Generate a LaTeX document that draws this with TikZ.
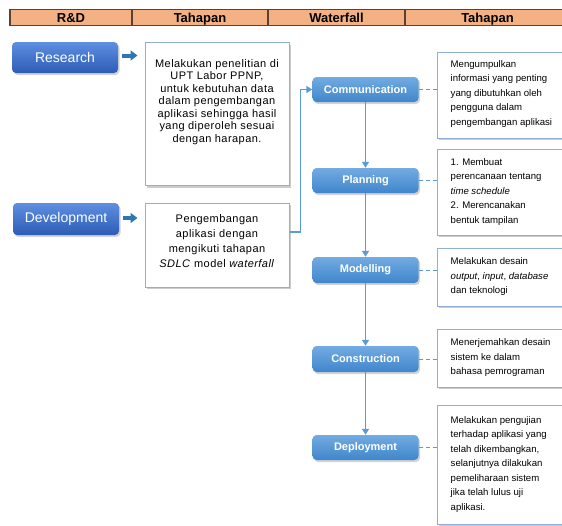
\documentclass[tikz,border=0pt]{standalone}
\usepackage{fontspec}
\setmainfont{Liberation Sans}
\usetikzlibrary{arrows.meta,shadows}
\definecolor{hdrfill}{HTML}{F4B183}
\definecolor{hdrline}{HTML}{5E4030}
\definecolor{rdtop}{HTML}{5E8FE2}
\definecolor{rdbot}{HTML}{2D5CB5}
\definecolor{wftop}{HTML}{73ABE2}
\definecolor{wfbot}{HTML}{3F86CB}
\definecolor{tline}{HTML}{8FAFD6}
\definecolor{cline}{HTML}{5B9BD5}
\definecolor{barrow}{HTML}{2E75B6}
\begin{document}
\begin{tikzpicture}[x=1pt,y=-1pt,
  hdr/.style={draw=hdrline, line width=1.2pt, fill=hdrfill, minimum height=16.5pt,
    inner sep=0pt, text height=9.3pt, text depth=0pt,
    font=\fontsize{13}{14}\selectfont\bfseries},
  rdbox/.style={rounded corners=4pt, top color=rdtop, bottom color=rdbot,
    minimum width=106pt, minimum height=31pt, inner sep=0pt, text=white,
    font=\fontsize{14}{15}\selectfont,
    drop shadow={shadow xshift=1.5pt, shadow yshift=-2pt, opacity=0.35}},
  wfbox/.style={rounded corners=4pt, top color=wftop, bottom color=wfbot,
    minimum width=106pt, minimum height=25pt, inner sep=0pt, text=white,
    font=\fontsize{11}{12}\selectfont\bfseries,
    drop shadow={shadow xshift=1.5pt, shadow yshift=-2pt, opacity=0.35}},
  tbox/.style={draw=tline, line width=1pt, fill=white, inner sep=0pt,
    drop shadow={shadow xshift=2pt, shadow yshift=-2pt, opacity=0.4}},
  ltext/.style={align=center, inner sep=0pt,
    font=\fontsize{11}{12.5}\selectfont\addfontfeature{LetterSpace=4}},
  ltextb/.style={align=center, inner sep=0pt,
    font=\fontsize{11}{15}\selectfont\addfontfeature{LetterSpace=4}},
  rtext/.style={align=left, anchor=west, inner sep=0pt,
    font=\fontsize{9.6}{14.5}\selectfont},
  barr/.style={draw=barrow, line width=4pt, -{Triangle[width=10pt,length=7pt]}},
  conn/.style={draw=cline, line width=1.5pt},
  connarr/.style={conn, -{Triangle[width=7pt,length=6pt]}},
  dconn/.style={draw=cline, line width=1pt, dash pattern=on 4pt off 3pt}
]
\useasboundingbox (0,0) rectangle (562,525);

% header
\node[hdr, minimum width=122pt] (h1) at (71,17.5) {R\&D};
\node[hdr, minimum width=136pt] (h2) at (200,17.5) {Tahapan};
\node[hdr, minimum width=137pt] (h3) at (336.5,17.5) {Waterfall};
\node[hdr, minimum width=165pt] (h4) at (487.5,17.5) {Tahapan};

% R&D column
\node[rdbox] (res) at (65,57.5) {Research};
\node[rdbox, minimum height=32pt] (dev) at (66,219) {Development};

\node[tbox, minimum width=144pt, minimum height=143pt] (t1) at (217,114) {};
\node[ltext] (t1t) at (217,102) {Melakukan penelitian di\\UPT Labor PPNP,\\untuk kebutuhan data\\dalam pengembangan\\aplikasi sehingga hasil\\yang diperoleh sesuai\\dengan harapan.};
\node[tbox, minimum width=144pt, minimum height=84pt] (t2) at (217,245) {};
\node[ltextb] (t2t) at (217,241) {Pengembangan\\aplikasi dengan\\mengikuti tahapan\\\textit{SDLC} model \textit{waterfall}};

\coordinate (ra) at ([xshift=4pt,yshift=2pt]res.east);
\coordinate (da) at ([xshift=4pt,yshift=1pt]dev.east);
\draw[barr] (ra) -- ([xshift=-7pt]ra -| t1.west);
\draw[barr] (da) -- ([xshift=-7pt]da -| t2.west);

% waterfall column
\node[wfbox] (com) at (365.5,89.5) {Communication};
\node[wfbox] (pla) at (365.5,180.5) {Planning};
\node[wfbox, minimum height=26pt] (mod) at (365.5,270) {Modelling};
\node[wfbox, minimum height=26pt] (con) at (365.5,359) {Construction};
\node[wfbox] (dep) at (365.5,447.5) {Deployment};

\draw[connarr] ([yshift=13pt]t2.east) -- ++(11,0) |- (com.west);
\draw[connarr] (com.south) -- (pla.north);
\draw[connarr] (pla.south) -- (mod.north);
\draw[connarr] (mod.south) -- (con.north);
\draw[connarr] (con.south) -- (dep.north);

% right column boxes
\node[tbox, minimum width=133pt, minimum height=86pt] (c1) at (503.5,95) {};
\node[rtext] (c1t) at ([xshift=14pt,yshift=1pt]c1.west) {Mengumpulkan\\informasi yang penting\\yang dibutuhkan oleh\\pengguna dalam\\pengembangan aplikasi};
\node[tbox, minimum width=133pt, minimum height=86pt] (c2) at (503.5,192) {};
\node[rtext] (c2t) at ([xshift=14pt]c2.west) {1. Membuat\\perencanaan tentang\\\textit{time schedule}\\2. Merencanakan\\bentuk tampilan};
\node[tbox, minimum width=133pt, minimum height=58pt] (c3) at (503.5,277) {};
\node[rtext] (c3t) at ([xshift=14pt]c3.west) {Melakukan desain\\\textit{output}, \textit{input}, \textit{database}\\dan teknologi};
\node[tbox, minimum width=133pt, minimum height=58pt] (c4) at (503.5,358) {};
\node[rtext] (c4t) at ([xshift=14pt]c4.west) {Menerjemahkan desain\\sistem ke dalam\\bahasa pemrograman};
\node[tbox, minimum width=133pt, minimum height=119pt] (c5) at (503.5,464.5) {};
\node[rtext] (c5t) at ([xshift=14pt]c5.west) {Melakukan pengujian\\terhadap aplikasi yang\\telah dikembangkan,\\selanjutnya dilakukan\\pemeliharaan sistem\\jika telah lulus uji\\aplikasi.};

\draw[dconn] (com.east) -- (com.east -| c1.west);
\draw[dconn] (pla.east) -- (pla.east -| c2.west);
\draw[dconn] (mod.east) -- (mod.east -| c3.west);
\draw[dconn] (con.east) -- (con.east -| c4.west);
\draw[dconn] (dep.east) -- (dep.east -| c5.west);
\end{tikzpicture}
\end{document}
